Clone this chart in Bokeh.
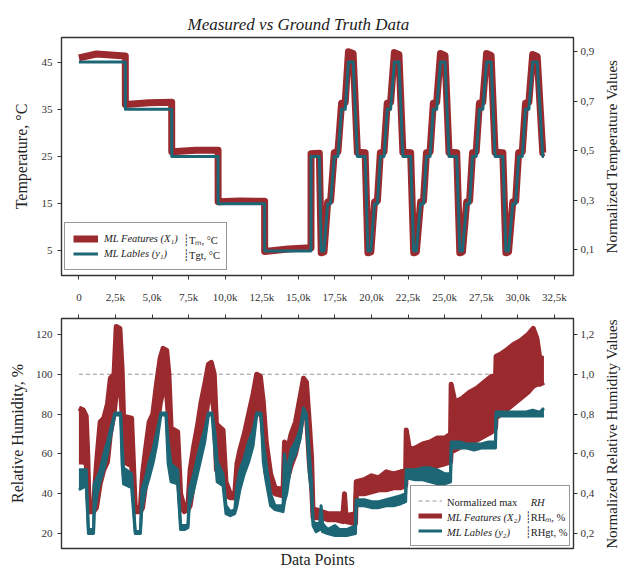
from bokeh.plotting import figure
from bokeh.models import (Range1d, LinearAxis, FixedTicker, Legend, LegendItem,
                          CustomJSTickFormatter)
from bokeh.core.properties import value
from bokeh.layouts import column, row
from bokeh.embed import file_html
from bokeh.resources import INLINE

# ---------------- data ----------------
x_ticks = [0, 2500, 5000, 7500, 10000, 12500, 15000, 17500, 20000, 22500, 25000, 27500, 30000, 32500]
x_tick_labels = ["0", "2,5k", "5,0k", "7,5k", "10,0k", "12,5k", "15,0k", "17,5k", "20,0k",
                 "22,5k", "25,0k", "27,5k", "30,0k", "32,5k"]
temp_ticks = [5, 15, 25, 35, 45]
temp_norm_ticks = [0.1, 0.3, 0.5, 0.7, 0.9]
temp_norm_labels = ["0,1", "0,3", "0,5", "0,7", "0,9"]
rh_ticks = [20, 40, 60, 80, 100, 120]
rh_norm_ticks = [0.2, 0.4, 0.6, 0.8, 1.0, 1.2]
rh_norm_labels = ["0,2", "0,4", "0,6", "0,8", "1,0", "1,2"]

# Temperature (vertices of the step / cycle profile)
temp_x = [0, 1200, 3170, 3175, 4800, 6340, 6345, 8000, 9510, 9515, 11000, 12690, 12695, 14300,
          15860, 15865, 16430, 16560, 16750, 17000, 17200, 17450, 17700, 17950, 18200, 18420,
          18740, 19030, 19560, 19750, 19950, 20200, 20400, 20600, 20850, 21070, 21300, 21560,
          21870, 22140, 22670, 22880, 23060, 23350, 23550, 23750, 24000, 24220, 24450, 24710,
          25020, 25290, 25820, 26030, 26210, 26500, 26700, 26900, 27150, 27370, 27600, 27860,
          28170, 28440, 28970, 29180, 29360, 29650, 29850, 30050, 30300, 30520, 30750, 31010,
          31320, 31700, 31780]
temp_gt = [45, 45, 45, 35, 35, 35, 25, 25, 25, 15, 15, 15, 5, 5,
           5, 25, 25, 5, 5, 15, 15, 25, 25, 35, 35, 45,
           45, 25, 25, 5, 5, 15, 15, 25, 25, 35, 35, 45,
           45, 25, 25, 5, 5, 15, 15, 25, 25, 35, 35, 45,
           45, 25, 25, 5, 5, 15, 15, 25, 25, 35, 35, 45,
           45, 25, 25, 5, 5, 15, 15, 25, 25, 35, 35, 45,
           45, 25, 25]
temp_meas = [45.9, 46.7, 46.3, 36.0, 36.4, 36.5, 26.0, 26.3, 26.3, 15.4, 15.6, 15.5, 4.9, 5.4,
             5.7, 25.6, 25.7, 4.6, 4.8, 15.4, 15.6, 25.8, 26.0, 36.3, 36.5, 47.2,
             46.8, 25.9, 25.8, 4.6, 4.8, 15.4, 15.6, 25.8, 26.0, 36.3, 36.5, 47.0,
             46.6, 25.9, 25.8, 4.6, 4.8, 15.4, 15.6, 25.8, 26.0, 36.3, 36.5, 46.8,
             46.4, 25.9, 25.8, 4.6, 4.8, 15.4, 15.6, 25.8, 26.0, 36.3, 36.5, 46.8,
             46.4, 25.9, 25.8, 4.6, 4.8, 15.4, 15.6, 25.8, 26.0, 36.3, 36.5, 46.6,
             46.2, 25.8, 25.9]

# Relative humidity, measured (upper / lower envelope of the fast oscillation)
rh_meas_x = [0, 300, 500, 600, 700, 1000, 1200, 1450, 1700, 1950, 2150, 2400, 2550, 2800, 2950,
             3050, 3600, 3850, 4200, 4350, 4550, 4800, 5050, 5300, 5550, 5750, 6000, 6150, 6300,
             6750, 6950, 7200, 7450, 7600, 7850, 8100, 8350, 8600, 8850, 9050, 9250, 9400, 9850,
             10050, 10350, 10650, 10800, 11000, 11300, 11600, 11900, 12150, 12400, 12600, 12800,
             13100, 13400, 13950, 14050, 14200, 14500, 14800, 15100, 15350, 15550, 15750, 15900,
             16000, 16200, 16600, 17000, 17500, 18050, 18150, 18250, 18900, 18950, 19500, 20000,
             20500, 21000, 21500, 22000, 22330, 22370, 22600, 23000, 23500, 24000, 24500, 25000,
             25400, 25440, 25700, 26200, 26700, 27200, 27700, 28200, 28470, 28510, 28800, 29200,
             29700, 30200, 30700, 31050, 31300, 31500, 31780]
rh_meas_hi = [83, 82, 79, 60, 33, 34, 55, 76, 78, 85, 98, 100, 124, 123, 103,
              79, 78, 33, 33, 50, 62, 76, 80, 95, 108, 113, 112, 100, 73,
              71, 40, 33, 34, 52, 64, 74, 86, 95, 105, 106, 100, 75, 72,
              46, 40, 40, 55, 62, 70, 80, 90, 100, 99, 86, 66,
              50, 43, 42, 66, 60, 70, 76, 88, 98, 96, 75, 58,
              31, 32, 31, 30, 30, 30, 40, 29, 30, 46, 47, 49,
              48, 51, 50, 51, 52, 72, 62, 63, 65, 66, 68, 68,
              70, 95, 86, 88, 91, 93, 96, 99, 98, 109, 110, 112,
              115, 117, 120, 123, 118, 108, 108]
rh_meas_lo = [56, 56, 55, 40, 31, 31, 33, 45, 52, 56, 70, 80, 90, 98, 80,
              56, 54, 31, 31, 33, 44, 52, 58, 70, 85, 92, 90, 75, 54,
              53, 33, 31, 32, 34, 46, 55, 62, 75, 88, 92, 80, 52, 48,
              39, 38, 38, 40, 47, 55, 63, 72, 84, 85, 70, 50,
              42, 40, 39, 42, 46, 54, 60, 70, 84, 80, 55, 44,
              28, 28, 28, 27, 27, 26, 27, 26, 25, 40, 40, 41,
              42, 42, 43, 43, 44, 50, 49, 50, 51, 52, 54, 55,
              56, 61, 62, 64, 66, 67, 69, 71, 73, 78, 80, 82,
              85, 88, 91, 94, 95, 95, 96]

# Relative humidity, ground truth (upper / lower envelope)
rh_gt_x = [0, 500, 650, 1000, 1050, 1250, 1450, 1700, 1950, 2150, 2450, 2850, 2950, 3050, 3600,
           3850, 4200, 4300, 4550, 4800, 5050, 5300, 5600, 5950, 6100, 6300, 6750, 6950, 7200,
           7450, 7550, 7850, 8100, 8350, 8600, 8850, 9100, 9300, 9450, 9850, 10050, 10350, 10650,
           10800, 11000, 11300, 11600, 11900, 12150, 12450, 12600, 12800, 13100, 13400, 13950,
           14050, 14200, 14500, 14800, 15100, 15350, 15550, 15750, 15900, 16000, 16200, 16450,
           16550, 16650, 17000, 17500, 17800, 18300, 18900, 18950, 19500, 20000, 20500, 21000,
           21500, 22000, 22330, 22370, 23000, 23500, 24000, 24500, 25000, 25400, 25440, 26000,
           26500, 27000, 27500, 28000, 28470, 28510, 29000, 29500, 30000, 30500, 31000, 31500,
           31780]
rh_gt_hi = [52, 52, 22, 22, 45, 48, 52, 60, 66, 72, 80.5, 80.5, 65, 53, 50,
            21, 21, 42, 48, 56, 62, 70, 80.5, 80.5, 66, 55, 52, 24, 24,
            24, 42, 50, 58, 66, 72, 80.5, 80.5, 70, 56, 50, 34, 31, 32,
            44, 52, 58, 66, 72, 80.5, 80.5, 66, 55, 40, 34, 34,
            60, 50, 62, 66, 72, 83, 80, 60, 46, 26, 25, 25,
            34, 25, 22, 24, 22, 22, 24, 37, 37, 36, 36, 37,
            38, 39, 40, 52, 52, 53, 53, 52, 50, 50, 66, 66,
            65, 65, 65, 66, 66, 81, 81, 81, 81, 81, 82, 81,
            83]
rh_gt_lo = [42, 44, 20, 20, 30, 40, 46, 52, 60, 68, 79.5, 79.5, 55, 45, 43,
            20, 20, 32, 42, 48, 55, 64, 79.5, 79.5, 55, 46, 45, 22, 22,
            23, 34, 42, 50, 58, 66, 79.5, 79.5, 60, 46, 44, 30, 29, 30,
            34, 42, 50, 56, 64, 79.5, 79.5, 56, 46, 34, 32, 31,
            36, 40, 55, 60, 67, 80, 77, 50, 40, 24, 21, 22,
            24, 21, 20, 19, 19, 19, 20, 34, 34, 33, 33, 34,
            34, 35, 36, 48, 47, 47, 46, 45, 45, 46, 63, 63,
            63, 62, 63, 63, 63, 79, 79, 79, 79, 79, 79, 79,
            79]

rh_max_x = [0, 31780]
rh_max = [100, 100]

# ---------------- style ----------------
RED = "#9b2a2f"
TEAL = "#1d6676"
INK = "#333333"
TXT = "#222222"
FONT = "Liberation Serif"
LEG_SIZE = "10.5px"
FRAME_W = 514

x_range = Range1d(-1190, 33800)


def style_fig(p):
    p.outline_line_color = INK
    p.outline_line_width = 1.4
    p.outline_line_alpha = 1
    p.xgrid.visible = False
    p.ygrid.visible = False
    p.background_fill_color = "white"
    p.border_fill_color = "white"


def style_axis(ax, label_size="16px"):
    ax.axis_line_color = None
    ax.major_tick_line_color = INK
    ax.major_tick_line_width = 1
    ax.major_tick_out = 4
    ax.major_tick_in = 0
    ax.minor_tick_line_color = None
    ax.major_label_text_font = FONT
    ax.major_label_text_font_size = "11px"
    ax.major_label_text_color = INK
    ax.axis_label_text_font = FONT
    ax.axis_label_text_font_size = label_size
    ax.axis_label_text_font_style = "normal"
    ax.axis_label_text_color = TXT


def make_legend(items, loc, glyph_w, standoff, label_w, pad):
    return Legend(items=items, location=loc, orientation="vertical",
                  glyph_width=glyph_w, glyph_height=15, label_height=15, label_width=label_w,
                  label_standoff=standoff, spacing=0, padding=pad, margin=0,
                  label_text_font=FONT, label_text_font_size=LEG_SIZE,
                  label_text_font_style="italic", label_text_color=TXT,
                  border_line_color=INK, border_line_width=1, background_fill_alpha=0)


def legend_text(p, frame_h, spots, italic=False):
    """Extra legend texts; spots are (px from frame left, px from frame bottom, text)."""
    xr, yr_ = p.x_range, p.y_range
    xs = [xr.start + sx * (xr.end - xr.start) / FRAME_W for sx, _, _ in spots]
    ys = [yr_.start + sy * (yr_.end - yr_.start) / frame_h for _, sy, _ in spots]
    txt = [t for _, _, t in spots]
    p.text(x=xs, y=ys, text=txt, text_font=value(FONT), text_font_size=LEG_SIZE,
           text_font_style="italic" if italic else "normal", text_color=TXT,
           text_baseline="middle", text_align="left")


def side_label(text, height, top, bottom):
    """Narrow strip carrying a right-hand axis title that reads bottom to top."""
    q = figure(width=24, height=height, x_range=Range1d(0, 1), y_range=Range1d(0, 1),
               output_backend="svg", toolbar_location=None,
               min_border_left=22, min_border_right=0, min_border_top=top, min_border_bottom=bottom)
    q.xaxis.visible = False
    q.xgrid.visible = False
    q.ygrid.visible = False
    q.outline_line_color = None
    ax = q.yaxis[0]
    style_axis(ax, "15px")
    ax.ticker = FixedTicker(ticks=[])
    ax.major_tick_out = 0
    ax.major_label_standoff = 0
    ax.axis_label = text
    ax.axis_label_standoff = 0
    return q


# ---------------- top: temperature ----------------
p1 = figure(width=597, height=308, x_range=x_range, y_range=Range1d(-0.2, 50.2),
            output_backend="svg", toolbar_location=None,
            min_border_left=61, min_border_right=22, min_border_top=37, min_border_bottom=33)
p1.extra_y_ranges = {"norm": Range1d(-0.004, 0.958)}
style_fig(p1)

p1.title.text = "Measured vs Ground Truth Data"
p1.title.align = "left"
p1.title.offset = 126
p1.title.text_font = FONT
p1.title.text_font_size = "17px"
p1.title.text_font_style = "italic"
p1.title.text_color = TXT
p1.title.standoff = 8

xa = p1.xaxis[0]
style_axis(xa)
xa.ticker = FixedTicker(ticks=x_ticks)
xa.major_label_overrides = dict(zip(x_ticks, x_tick_labels))
xa.major_label_standoff = 11

ya = p1.yaxis[0]
style_axis(ya)
ya.ticker = FixedTicker(ticks=temp_ticks)
ya.axis_label = "Temperature, °C"
ya.axis_label_standoff = 9

yr = LinearAxis(y_range_name="norm", ticker=FixedTicker(ticks=temp_norm_ticks),
                major_label_overrides=dict(zip(temp_norm_ticks, temp_norm_labels)))
style_axis(yr)
yr.major_label_standoff = 3
p1.add_layout(yr, "right")

r_t_meas = p1.line(temp_x, temp_meas, line_color=RED, line_width=7, line_join="round")
r_t_gt = p1.line(temp_x, temp_gt, line_color=TEAL, line_width=3, line_join="round")

lt1 = make_legend([LegendItem(label="ML Features (X₁)", renderers=[r_t_meas]),
                   LegendItem(label="ML Lables (y₁)", renderers=[r_t_gt])],
                  (3, 5), glyph_w=25, standoff=6, label_w=114, pad=8)
p1.add_layout(lt1, "center")
legend_text(p1, 238, [(122, 35.5, "┊"), (122, 20.5, "┊"),
                      (128, 35.5, "Tₘ, °C"), (128, 20.5, "Tgt, °C")])

# ---------------- bottom: relative humidity ----------------
p2 = figure(width=597, height=262, x_range=x_range, y_range=Range1d(12.5, 128),
            output_backend="svg", toolbar_location=None,
            min_border_left=61, min_border_right=22, min_border_top=10, min_border_bottom=21)
p2.extra_y_ranges = {"norm": Range1d(0.125, 1.28)}
style_fig(p2)

xb = p2.xaxis[0]
style_axis(xb)
xb.ticker = FixedTicker(ticks=[])
xb.major_tick_out = 0
xb.major_label_standoff = 0
xb.axis_label = "Data Points"
xb.axis_label_standoff = 2

xt = LinearAxis(ticker=FixedTicker(ticks=x_ticks), formatter=CustomJSTickFormatter(code="return ''"))
style_axis(xt)
xt.major_label_standoff = 0
p2.add_layout(xt, "above")

yb = p2.yaxis[0]
style_axis(yb)
yb.ticker = FixedTicker(ticks=rh_ticks)
yb.axis_label = "Relative Humidity, %"
yb.axis_label_standoff = 7

yr2 = LinearAxis(y_range_name="norm", ticker=FixedTicker(ticks=rh_norm_ticks),
                 major_label_overrides=dict(zip(rh_norm_ticks, rh_norm_labels)))
style_axis(yr2)
yr2.major_label_standoff = 3
p2.add_layout(yr2, "right")

r_max = p2.line(rh_max_x, rh_max, line_color="#999999", line_width=1.2, line_dash="4 3")
p2.varea(x=rh_meas_x, y1=rh_meas_lo, y2=rh_meas_hi, fill_color=RED, fill_alpha=1)
r_rh_meas = p2.line(rh_meas_x, rh_meas_hi, line_color=RED, line_width=5, line_join="round")
p2.line(rh_meas_x, rh_meas_lo, line_color=RED, line_width=5, line_join="round")
p2.varea(x=rh_gt_x, y1=rh_gt_lo, y2=rh_gt_hi, fill_color=TEAL, fill_alpha=1)
r_rh_gt = p2.line(rh_gt_x, rh_gt_hi, line_color=TEAL, line_width=3, line_join="round")
p2.line(rh_gt_x, rh_gt_lo, line_color=TEAL, line_width=3, line_join="round")

lb1 = make_legend([LegendItem(label=" ", renderers=[r_max]),
                   LegendItem(label=" ", renderers=[r_rh_meas]),
                   LegendItem(label=" ", renderers=[r_rh_gt])],
                  (349, 2), glyph_w=24, standoff=7, label_w=113, pad=7)
p2.add_layout(lb1, "center")
legend_text(p2, 231, [(387, 31.5, "ML Features (X₂)"), (387, 16.5, "ML Lables (y₂)"),
                      (471, 46.5, "RH")], italic=True)
legend_text(p2, 231, [(387, 46.5, "Normalized max"), (465, 31.5, "┊"), (465, 16.5, "┊"),
                      (471, 31.5, "RHₘ, %"), (471, 16.5, "RHgt, %")])

q1 = side_label("Normalized Temperature Values", 308, 37, 33)
q2 = side_label("Normalized Relative Humidity Values", 262, 10, 21)

layout = row(column(p1, p2, spacing=0), column(q1, q2, spacing=0), spacing=0)
open("out.html", "w").write(file_html(layout, INLINE, "Measured vs Ground Truth Data"))
